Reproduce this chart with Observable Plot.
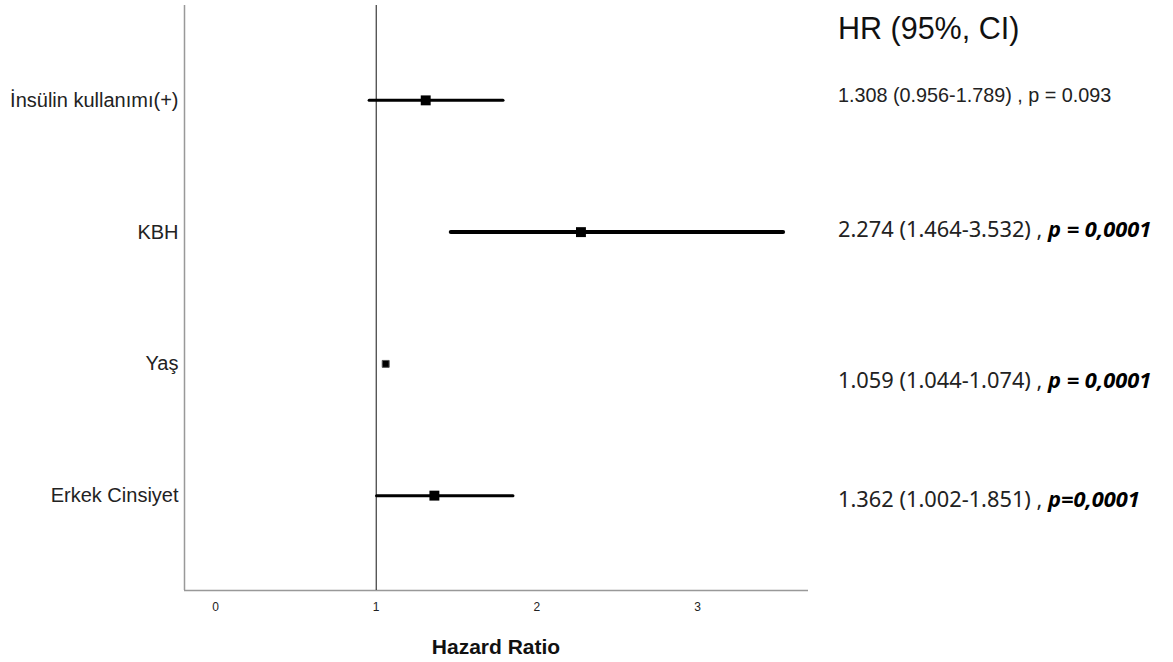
<!DOCTYPE html>
<html>
<head>
<meta charset="utf-8">
<script src="https://cdn.jsdelivr.net/npm/d3@7"></script>
<script src="https://cdn.jsdelivr.net/npm/@observablehq/plot@0.6"></script>
<style>
  html, body { margin: 0; padding: 0; background: #fff; }
  #chart { position: relative; width: 1173px; height: 662px; }
</style>
</head>
<body>
<div id="chart"></div>
<script>
// ---- data ----
const factors = ["İnsülin kullanımı(+)", "KBH", "Yaş", "Erkek Cinsiyet"];
const hr = [1.308, 2.274, 1.059, 1.362];
const lower = [0.956, 1.464, 1.044, 1.002];
const upper = [1.789, 3.532, 1.074, 1.851];
const hrText = ["1.308 (0.956-1.789) , ", "2.274 (1.464-3.532) , ", "1.059 (1.044-1.074) , ", "1.362 (1.002-1.851) , "];
const pText = ["p = 0.093", "p = 0,0001", "p = 0,0001", "p=0,0001"];
const xTicks = [0, 1, 2, 3];
const headerText = "HR (95%, CI)";
const xLabel = "Hazard Ratio";

// ---- styles (not data) ----
const lineW = [3, 4, 2, 3];
const dotR = [5.6, 5.6, 3.9, 5.6];
const noteDy = [-5, -2, 17, 4];

const rows = factors.map((f, i) => ({i, f, hr: hr[i], lo: lower[i], hi: upper[i], w: lineW[i], r: dotR[i]}));
const xDomain = [-0.193, 3.69];
const yDomain = [-0.72, 3.72];
const sans = "'Liberation Sans', Arial, sans-serif";

const plot = Plot.plot({
  width: 1173,
  height: 662,
  marginLeft: 184,
  marginRight: 365,
  marginTop: 5,
  marginBottom: 72,
  style: {background: "#fff", color: "#222"},
  x: {domain: xDomain, ticks: xTicks, tickFormat: "d", tickSize: 0, tickPadding: 12, label: null},
  y: {domain: yDomain, reverse: true, ticks: factors.map((f, i) => i), tickFormat: i => factors[i], tickSize: 0, tickPadding: 6, label: null},
  r: {type: "identity"},
  marks: [
    Plot.ruleX([xDomain[0]], {stroke: "#999", strokeWidth: 1.5}),
    Plot.ruleY([yDomain[1]], {stroke: "#999", strokeWidth: 1.5}),
    Plot.ruleX([1], {stroke: "#111", strokeWidth: 1}),
    Plot.link(rows, {x1: "lo", x2: "hi", y1: "i", y2: "i", stroke: "#000", strokeWidth: "w", strokeLinecap: "round"}),
    Plot.dot(rows, {x: "hr", y: "i", r: "r", symbol: "square", fill: "#000", stroke: (d, k) => k === 2 ? "#555" : "none", strokeWidth: 1})
  ]
});

document.getElementById("chart").appendChild(plot);

const svg = d3.select(plot);
svg.selectAll("[aria-label='y-axis tick label']").style("font-size", "20px").style("font-family", sans).attr("fill", "#222");
svg.selectAll("[aria-label='x-axis tick label']").style("font-size", "12px").style("font-family", sans);

svg.select("[aria-label='link']").selectAll("path, line").each(function(d, k) {
  d3.select(this).attr("stroke-width", lineW[k]);
});

const xs = plot.scale("x"), ys = plot.scale("y");

// x label
svg.append("text")
  .attr("x", (xs.apply(xDomain[0]) + xs.apply(xDomain[1])) / 2)
  .attr("y", 654)
  .attr("text-anchor", "middle")
  .style("font-family", sans)
  .style("font-size", "21px").style("font-weight", "bold").attr("fill", "#111")
  .text(xLabel);

// header
const noteX = xs.apply(xDomain[1]) + 30;
svg.append("text")
  .attr("x", noteX).attr("y", 39)
  .attr("text-anchor", "start")
  .style("font-family", sans)
  .style("font-size", "30.5px").attr("fill", "#111")
  .text(headerText);

rows.forEach((r, k) => {
  const t = svg.append("text")
    .attr("x", noteX)
    .attr("y", ys.apply(r.i) + noteDy[k])
    .attr("dy", "0.35em")
    .attr("text-anchor", "start")
    .attr("fill", "#222");
  if (k === 0) {
    t.style("font-family", sans).style("font-size", "19.8px");
    t.append("tspan").text(hrText[k] + pText[k]);
  } else {
    t.style("font-family", "'Noto Sans', 'Open Sans', sans-serif").style("font-size", "21.8px");
    t.append("tspan").text(hrText[k]);
    t.append("tspan").style("font-weight", "bold").style("font-style", "italic").attr("fill", "#000").text(pText[k]);
  }
});
</script>
</body>
</html>
